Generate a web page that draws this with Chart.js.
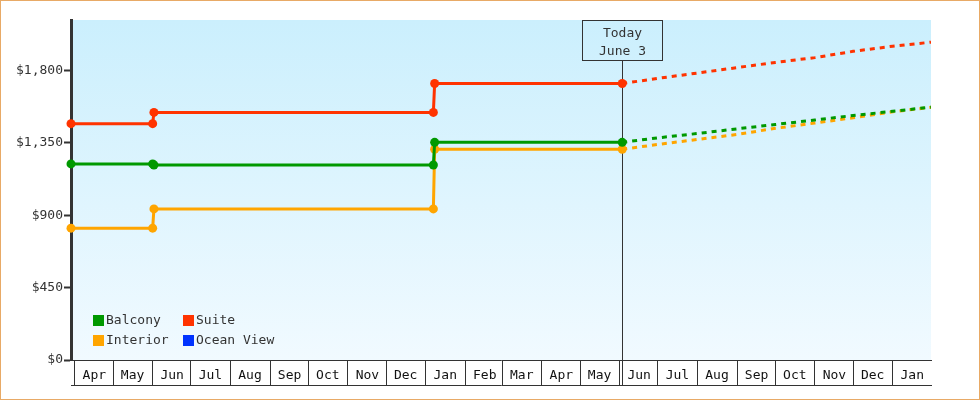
<!DOCTYPE html>
<html>
<head>
<meta charset="utf-8">
<script src="https://cdn.jsdelivr.net/npm/chart.js@4.4.1/dist/chart.umd.min.js"></script>
<style>
  html, body { margin: 0; padding: 0; background: #fff; }
  canvas { display: block; }
</style>
</head>
<body>
<canvas id="priceChart" width="980" height="400"></canvas>
<script>
// month cells along the bottom
const monthLabels = ['Apr', 'May', 'Jun', 'Jul', 'Aug', 'Sep', 'Oct', 'Nov', 'Dec', 'Jan', 'Feb',
    'Mar', 'Apr', 'May', 'Jun', 'Jul', 'Aug', 'Sep', 'Oct', 'Nov', 'Dec', 'Jan'];
const firstMonth = '2023-04-01';
const axisStart = '2023-03-29';
const axisEnd = '2025-01-31';
const yTicks = [0, 450, 900, 1350, 1800];
const yMax = 2115;

const todayDate = '2024-06-03';
const todayText = ['Today', 'June 3'];

// price history (solid)
const historyDates = ['2023-03-29', '2023-06-01', '2023-06-02', '2024-01-07', '2024-01-08', '2024-06-03'];
const balconyHistory = [1220, 1220, 1213, 1213, 1354, 1354];
const suiteHistory = [1470, 1470, 1540, 1540, 1720, 1720];
const interiorHistory = [820, 820, 940, 940, 1311, 1311];

// projection (dashed)
const forecastDates = ['2024-06-03', '2024-07-01', '2024-08-01', '2024-09-01', '2024-10-01',
    '2024-11-01', '2024-12-01', '2025-01-01', '2025-01-31'];
const balconyForecast = [1354, 1382, 1409, 1438, 1465, 1493, 1521, 1547, 1573];
const suiteForecast = [1720, 1752, 1785, 1819, 1851, 1881, 1920, 1952, 1977];
const interiorForecast = [1311, 1341, 1372, 1403, 1441, 1474, 1507, 1544, 1572];

const legendItems = ['Balcony', 'Suite', 'Interior', 'Ocean View'];
const colors = {
    'Balcony': '#009900',
    'Suite': '#ff3300',
    'Interior': '#ffa500',
    'Ocean View': '#0033ff'
};

const FONT = '"DejaVu Sans Mono", "Liberation Mono", monospace';
const INK = '#333333';

// days since first month start
function day(str) {
    return (Date.parse(str) - Date.parse(firstMonth)) / 86400000;
}

function toPoints(dates, values) {
    return dates.map((d, i) => ({ x: day(d), y: values[i] }));
}

function monthStartDays() {
    const out = [];
    const d = new Date(firstMonth + 'T00:00:00Z');
    for (let i = 0; i < monthLabels.length; i++) {
        out.push((d.getTime() - Date.parse(firstMonth)) / 86400000);
        d.setUTCMonth(d.getUTCMonth() + 1);
    }
    return out;
}

function solid(label, data) {
    return {
        label: label,
        data: data,
        borderColor: colors[label],
        backgroundColor: colors[label],
        borderWidth: 3,
        tension: 0,
        clip: false,
        pointRadius: 4.5,
        pointBorderWidth: 0,
        pointBackgroundColor: colors[label]
    };
}

function dashed(label, data) {
    return {
        label: label + ' forecast',
        data: data,
        borderColor: colors[label],
        borderWidth: 3,
        borderDash: [5, 5],
        tension: 0,
        pointRadius: 0
    };
}

const backgroundPlugin = {
    id: 'plotBackground',
    beforeDraw(chart) {
        const { ctx, chartArea: a } = chart;
        ctx.save();
        const g = ctx.createLinearGradient(0, a.top, 0, a.bottom);
        g.addColorStop(0, '#cbeffd');
        g.addColorStop(1, '#f1faff');
        ctx.fillStyle = g;
        ctx.fillRect(a.left, a.top, a.right - a.left, a.bottom - a.top);
        ctx.strokeStyle = '#e8aa66';
        ctx.lineWidth = 1;
        ctx.strokeRect(0.5, 0.5, chart.width - 1, chart.height - 1);
        ctx.restore();
    }
};

const todayPlugin = {
    id: 'todayMarker',
    beforeDatasetsDraw(chart) {
        const { ctx, chartArea: a } = chart;
        const x = Math.round(chart.scales.x.getPixelForValue(day(todayDate))) + 0.5;
        const boxW = 80, boxH = 40;
        const top = a.top + 0.5;
        ctx.save();
        ctx.strokeStyle = INK;
        ctx.lineWidth = 1;
        ctx.beginPath();
        ctx.moveTo(x, top + boxH);
        ctx.lineTo(x, chart.scales.x2.top);
        ctx.stroke();
        ctx.strokeRect(x - boxW / 2, top, boxW, boxH);
        ctx.fillStyle = INK;
        ctx.font = '13px ' + FONT;
        ctx.textAlign = 'center';
        ctx.textBaseline = 'middle';
        ctx.fillText(todayText[0], x, top + 13);
        ctx.fillText(todayText[1], x, top + 31);
        ctx.restore();
    }
};

const legendPlugin = {
    id: 'gridLegend',
    afterDraw(chart) {
        const { ctx, chartArea: a } = chart;
        ctx.save();
        ctx.font = '13px ' + FONT;
        ctx.textBaseline = 'middle';
        ctx.textAlign = 'left';
        legendItems.forEach((name, i) => {
            const col = i % 2, row = Math.floor(i / 2);
            const x = a.left + 22 + col * 90;
            const y = a.bottom - 45 + row * 20;
            ctx.fillStyle = colors[name];
            ctx.fillRect(x, y, 11, 11);
            ctx.fillStyle = INK;
            ctx.fillText(name, x + 13, y + 6);
        });
        ctx.restore();
    }
};

const ctx = document.getElementById('priceChart').getContext('2d');
const cellStarts = monthStartDays();

new Chart(ctx, {
    type: 'line',
    data: {
        datasets: [
            solid('Balcony', toPoints(historyDates, balconyHistory)),
            dashed('Balcony', toPoints(forecastDates, balconyForecast)),
            solid('Suite', toPoints(historyDates, suiteHistory)),
            dashed('Suite', toPoints(forecastDates, suiteForecast)),
            solid('Interior', toPoints(historyDates, interiorHistory)),
            dashed('Interior', toPoints(forecastDates, interiorForecast)),
            solid('Ocean View', [])
        ]
    },
    options: {
        responsive: false,
        animation: false,
        events: [],
        layout: { padding: { top: 20, right: 49, bottom: 0, left: 0 } },
        scales: {
            x: {
                type: 'linear',
                position: 'bottom',
                min: day(axisStart),
                max: day(axisEnd),
                afterBuildTicks: scale => {
                    scale.ticks = cellStarts.map(v => ({ value: v }));
                },
                afterFit: scale => { scale.height = 25; },
                ticks: {
                    autoSkip: false,
                    maxRotation: 0,
                    minRotation: 0,
                    labelOffset: 19.5,
                    padding: -17,
                    color: '#111',
                    font: { family: FONT, size: 13 },
                    callback: (value, index) => monthLabels[index]
                },
                grid: {
                    drawOnChartArea: false,
                    tickLength: 25,
                    tickColor: INK,
                    tickWidth: 1
                },
                border: { color: INK, width: 1 }
            },
            x2: {
                type: 'linear',
                position: 'bottom',
                min: day(axisStart),
                max: day(axisEnd),
                afterFit: scale => { scale.height = 15; },
                ticks: { display: false },
                grid: { drawOnChartArea: false, drawTicks: false },
                border: { color: INK, width: 1 }
            },
            y: {
                min: 0,
                max: yMax,
                afterBuildTicks: scale => {
                    scale.ticks = yTicks.map(v => ({ value: v }));
                },
                afterFit: scale => { scale.width = 71; },
                ticks: {
                    padding: 1,
                    color: INK,
                    font: { family: FONT, size: 13 },
                    callback: v => '$' + v.toLocaleString('en-US')
                },
                grid: {
                    drawOnChartArea: false,
                    tickLength: 7,
                    tickColor: INK,
                    tickWidth: 2
                },
                border: { color: INK, width: 3 }
            }
        },
        plugins: {
            legend: { display: false },
            tooltip: { enabled: false }
        }
    },
    plugins: [backgroundPlugin, todayPlugin, legendPlugin]
});
</script>
</body>
</html>
